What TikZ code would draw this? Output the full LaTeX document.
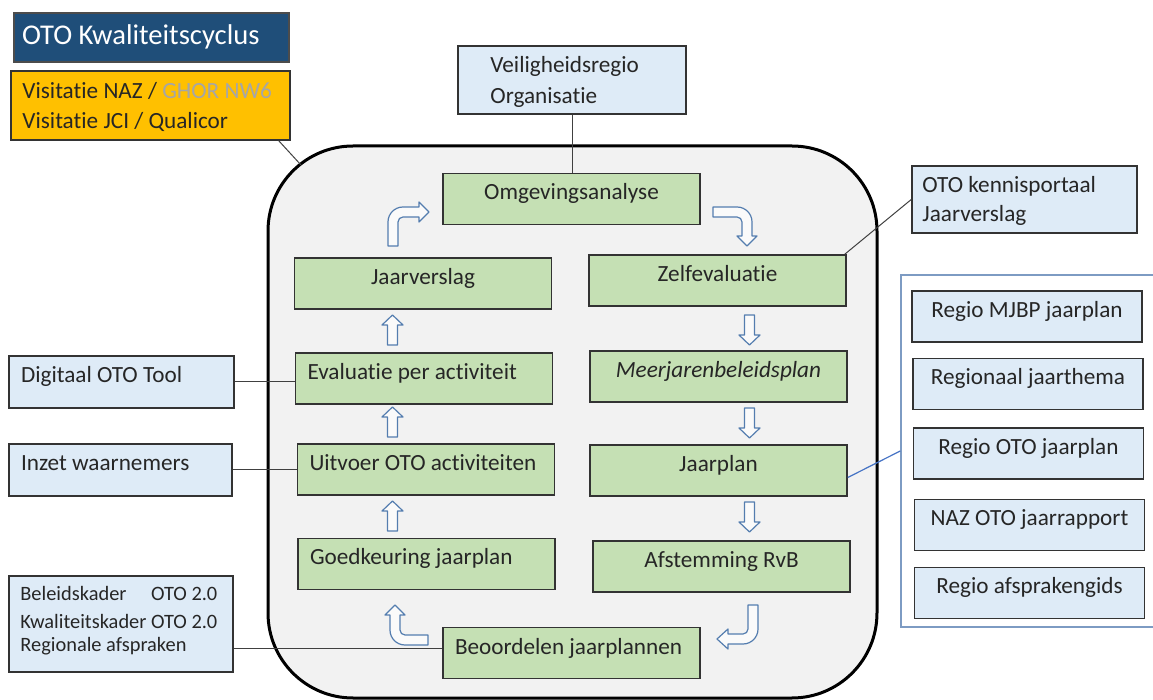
\documentclass[tikz,border=0pt]{standalone}
\usepackage{fontspec}
\setmainfont{Carlito}[RawFeature={-liga;-clig;-dlig}]
\usepackage{tikz}

\definecolor{kopblauw}{RGB}{31,78,121}
\definecolor{oranje}{RGB}{255,192,0}
\definecolor{groen}{RGB}{197,224,180}
\definecolor{lichtblauw}{RGB}{222,235,247}
\definecolor{achtergrond}{RGB}{242,242,242}
\definecolor{pijlrand}{RGB}{84,125,175}
\definecolor{paneelrand}{RGB}{125,155,195}
\definecolor{lijnblauw}{RGB}{68,114,196}
\definecolor{grijs}{RGB}{166,166,166}

\begin{document}
\begin{tikzpicture}[x=0.5pt,y=0.5pt,yscale=-1,xscale=1,
  kader/.style={draw=black!80, line width=0.75pt, minimum height=25.5pt, text height=8pt, text depth=7pt, text=black!85, font=\fontsize{11.6}{14}\selectfont},
  stap/.style={kader, fill=groen, minimum width=128.5pt},
  bron/.style={kader, fill=lichtblauw},
  links/.style={align=flush left, inner xsep=6pt, text width=#1},
  regel/.style={anchor=base west, inner sep=0pt, text=black!85, font=\fontsize{11.6}{14}\selectfont},
  pijl/.style={draw=pijlrand, fill=white!60!achtergrond, line width=0.6pt, line join=round},
  lijn/.style={draw=black!75, line width=0.5pt}]
\useasboundingbox (0,0) rectangle (1153,700);

%Shape: Rounded Rect
\node[draw=black, line width=1.5pt, fill=achtergrond, rounded corners=42.5pt, minimum width=304.5pt, minimum height=276pt] (cyclus) at (572.5,422) {};
%Shape: Rectangle
\node[draw=paneelrand, line width=0.75pt, minimum width=135pt, minimum height=176pt] (paneel) at (1036,451) {};

%Shape: Rectangle
\node[draw=black!70, line width=0.75pt, fill=kopblauw, text=white, minimum width=137.5pt, minimum height=24.5pt, align=flush left, inner xsep=4pt, text width=129.5pt, text height=11pt, text depth=3.5pt, font=\fontsize{14.3}{17}\selectfont] (titel) at (151.5,37.5) {OTO Kwaliteitscyclus};
\node[kader, fill=oranje, minimum width=139.5pt, minimum height=34.5pt] (visitatie) at (150.5,105.5) {};
\node[bron, minimum width=114pt, minimum height=34pt] (veiligheid) at (572,80) {};
\node[bron, minimum width=112.5pt, minimum height=33.5pt] (kennis) at (1024.5,199.5) {};
\node[bron, links=100.5pt, minimum width=112.5pt, minimum height=26pt] (digitaal) at (121.5,382) {Digitaal OTO Tool};
\node[bron, links=99.5pt, minimum width=111.5pt, minimum height=26pt] (inzet) at (120.5,470) {Inzet waarnemers};
\node[bron, minimum width=112pt, minimum height=48pt] (beleid) at (121,624) {};

%Shape: Rectangle
\node[stap] (omgeving) at (571.5,199) {Omgevingsanalyse};
\node[stap] (jaarverslag) at (423,283.5) {Jaarverslag};
\node[stap] (zelfevaluatie) at (717.5,280.5) {Zelfevaluatie};
\node[stap, links=116.5pt] (evaluatie) at (424,378.5) {Evaluatie per activiteit};
\node[stap] (beleidsplan) at (718.5,376.5) {\textit{Meerjarenbeleidsplan}};
\node[stap, links=116.5pt] (uitvoer) at (426,469.5) {Uitvoer OTO activiteiten};
\node[stap] (jaarplan) at (718.5,470.5) {Jaarplan};
\node[stap, links=116.5pt] (goedkeuring) at (426.5,564) {Goedkeuring jaarplan};
\node[stap] (afstemming) at (721.5,566.5) {Afstemming RvB};
\node[stap, links=116.5pt] (beoordelen) at (571.5,653) {Beoordelen jaarplannen};

%Shape: Rectangle
\node[bron, minimum width=115pt] (mjbp) at (1027,316.5) {Regio MJBP jaarplan};
\node[bron, minimum width=115pt] (thema) at (1028,384) {Regionaal jaarthema};
\node[bron, minimum width=115pt] (otoplan) at (1028.5,453.5) {Regio OTO jaarplan};
\node[bron, minimum width=115pt] (rapport) at (1029.5,525) {NAZ OTO jaarrapport};
\node[bron, minimum width=115pt] (gids) at (1029.5,593) {Regio afsprakengids};

%Straight Lines
\coordinate (hoek) at (301,165);
\draw[lijn] ([xshift=-6pt]visitatie.south east) -- (hoek);
\draw[lijn] (veiligheid.south) -- (veiligheid.south |- omgeving.north);
\draw[lijn] ([xshift=-1pt]zelfevaluatie.north east) -- (kennis.west);
\draw[lijn] (digitaal.east) -- (digitaal.east -| evaluatie.west);
\draw[lijn] (inzet.east) -- (inzet.east -| uitvoer.west);
\draw[lijn] ([yshift=-2.5pt]beoordelen.west) -- ([yshift=-2.5pt]beoordelen.west -| beleid.east);
\draw[draw=lijnblauw, line width=0.6pt] ([yshift=3.5pt]jaarplan.east) -- (paneel.west);

%Shape: Up Arrow
\draw[pijl, shift={(392.5,315)}] (0,0) -- (10.5,10) -- (5,10) -- (5,30) -- (-5,30) -- (-5,10) -- (-10.5,10) -- cycle;
\draw[pijl, shift={(392.5,407)}] (0,0) -- (10.5,10) -- (5,10) -- (5,30) -- (-5,30) -- (-5,10) -- (-10.5,10) -- cycle;
\draw[pijl, shift={(392.5,501)}] (0,0) -- (10.5,10) -- (5,10) -- (5,30) -- (-5,30) -- (-5,10) -- (-10.5,10) -- cycle;
%Shape: Down Arrow
\draw[pijl, shift={(749.5,345)}, rotate=180] (0,0) -- (10.5,10) -- (5,10) -- (5,30) -- (-5,30) -- (-5,10) -- (-10.5,10) -- cycle;
\draw[pijl, shift={(749.5,438)}, rotate=180] (0,0) -- (10.5,10) -- (5,10) -- (5,30) -- (-5,30) -- (-5,10) -- (-10.5,10) -- cycle;
\draw[pijl, shift={(749.5,532)}, rotate=180] (0,0) -- (10.5,10) -- (5,10) -- (5,30) -- (-5,30) -- (-5,10) -- (-10.5,10) -- cycle;

%Shape: Bent Arrow
\draw[pijl] (388,246) -- (388,222) .. controls (388,213.7) and (394.7,207) .. (403,207) -- (419,207) -- (419,202) -- (429,212) -- (419,222) -- (419,217) -- (403,217) .. controls (400.2,217) and (398,219.2) .. (398,222) -- (398,246) -- cycle ;
\draw[pijl] (713,207) -- (737,207) .. controls (745.3,207) and (752,213.7) .. (752,222) -- (752,236) -- (757,236) -- (747,246) -- (737,236) -- (742,236) -- (742,222) .. controls (742,219.2) and (739.8,217) .. (737,217) -- (713,217) -- cycle ;
\draw[pijl] (748,605) -- (758,605) -- (758,629) .. controls (758,637.3) and (751.3,644) .. (743,644) -- (728,644) -- (728,649) -- (717,639) -- (728,629) -- (728,634) -- (743,634) .. controls (745.8,634) and (748,631.8) .. (748,629) -- cycle ;
\draw[pijl] (428,635) -- (405,635) .. controls (402.2,635) and (400,632.8) .. (400,630) -- (400,615) -- (405,615) -- (395,605) -- (385,615) -- (390,615) -- (390,630) .. controls (390,638.3) and (396.7,645) .. (405,645) -- (428,645) -- cycle ;

% Text Node
\node[regel] (visitatie1) at (22,99) {Visitatie NAZ / \textcolor{grijs}{GHOR NW6}};
\node[regel] (visitatie2) at (22,129) {Visitatie JCI / Qualicor};
\node[regel] (veiligheid1) at (490,73) {Veiligheidsregio};
\node[regel] (veiligheid2) at (490,104) {Organisatie};
\node[regel] (kennis1) at (922,193) {OTO kennisportaal};
\node[regel] (kennis2) at (922,222) {Jaarverslag};
\node[regel, font=\fontsize{10.2}{12}\selectfont] (beleid1) at (20,601) {\rlap{Beleidskader}\phantom{Kwaliteitskader }OTO 2.0};
\node[regel, font=\fontsize{10.2}{12}\selectfont] (beleid2) at (20,628) {Kwaliteitskader OTO 2.0};
\node[regel, font=\fontsize{10.2}{12}\selectfont] (beleid3) at (20,652) {Regionale afspraken};

\end{tikzpicture}
\end{document}
